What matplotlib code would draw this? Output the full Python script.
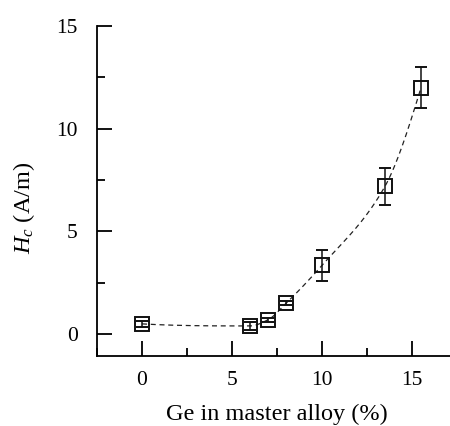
import numpy as np
import matplotlib
matplotlib.use("Agg")
import matplotlib.pyplot as plt
from matplotlib.ticker import MultipleLocator

# Ge content in master alloy (%) and coercivity Hc (A/m)
ge = [0.0, 6.0, 7.0, 8.0, 10.0, 13.5, 15.5]
hc = [0.5, 0.4, 0.7, 1.5, 3.35, 7.2, 12.0]
hc_err = [0.15, 0.2, 0.1, 0.1, 0.75, 0.9, 1.0]


def pchip(x, y, xs):
    # shape-preserving cubic interpolation (same idea as scipy's PchipInterpolator)
    x = np.asarray(x, float)
    y = np.asarray(y, float)
    h = np.diff(x)
    delta = np.diff(y) / h
    d = np.zeros_like(x)
    for k in range(1, len(x) - 1):
        if delta[k - 1] * delta[k] > 0:
            w1 = 2 * h[k] + h[k - 1]
            w2 = h[k] + 2 * h[k - 1]
            d[k] = (w1 + w2) / (w1 / delta[k - 1] + w2 / delta[k])

    def end(h0, h1, d0, d1):
        s = ((2 * h0 + h1) * d0 - h0 * d1) / (h0 + h1)
        if np.sign(s) != np.sign(d0):
            return 0.0
        if np.sign(d0) != np.sign(d1) and abs(s) > 3 * abs(d0):
            return 3 * d0
        return s

    d[0] = end(h[0], h[1], delta[0], delta[1])
    d[-1] = end(h[-1], h[-2], delta[-1], delta[-2])

    idx = np.clip(np.searchsorted(x, xs) - 1, 0, len(x) - 2)
    t = (xs - x[idx]) / h[idx]
    h00 = 2 * t**3 - 3 * t**2 + 1
    h10 = t**3 - 2 * t**2 + t
    h01 = -2 * t**3 + 3 * t**2
    h11 = t**3 - t**2
    return (h00 * y[idx] + h10 * h[idx] * d[idx]
            + h01 * y[idx + 1] + h11 * h[idx] * d[idx + 1])


plt.rcParams["font.family"] = ["Liberation Serif", "DejaVu Serif"]
plt.rcParams["mathtext.fontset"] = "custom"
plt.rcParams["mathtext.it"] = "Liberation Serif:italic"
plt.rcParams["mathtext.rm"] = "Liberation Serif"

fig = plt.figure(figsize=(4.5, 4.26), dpi=100)
ax = fig.add_axes([0.2156, 0.164, 0.784, 0.775])

# smooth guide line through the points
xs = np.linspace(min(ge), max(ge), 300)
ax.plot(xs, pchip(ge, hc, xs), color="#222222", lw=0.9, ls=(0, (4, 3)))

ax.errorbar(ge, hc, yerr=hc_err, fmt="s", ms=9.5, mfc="none", mec="#111111",
            mew=1.4, ecolor="#111111", elinewidth=1.1, capsize=4.5, capthick=1.1)

ax.set_xlim(-2.5, 17.1)
ax.set_ylim(-1.07, 15)
ax.xaxis.set_major_locator(MultipleLocator(5))
ax.xaxis.set_minor_locator(MultipleLocator(2.5))
ax.yaxis.set_major_locator(MultipleLocator(5))
ax.yaxis.set_minor_locator(MultipleLocator(2.5))
ax.tick_params(which="major", direction="in", length=11, width=1.3,
               labelsize=15.5, pad=11)
ax.tick_params(which="minor", direction="in", length=6, width=1.3)
ax.tick_params(axis="y", which="major", pad=14)

ax.spines["top"].set_visible(False)
ax.spines["right"].set_visible(False)
ax.spines["left"].set_linewidth(1.3)
ax.spines["bottom"].set_linewidth(1.3)

ax.set_xlabel("Ge in master alloy (%)", fontsize=17.5)
ax.xaxis.set_label_coords(0.51, -0.145)
ax.set_ylabel("$H_c$ (A/m)", fontsize=17.5)
ax.yaxis.set_label_coords(-0.17, 0.45)

fig.savefig("out.png", dpi=100)
